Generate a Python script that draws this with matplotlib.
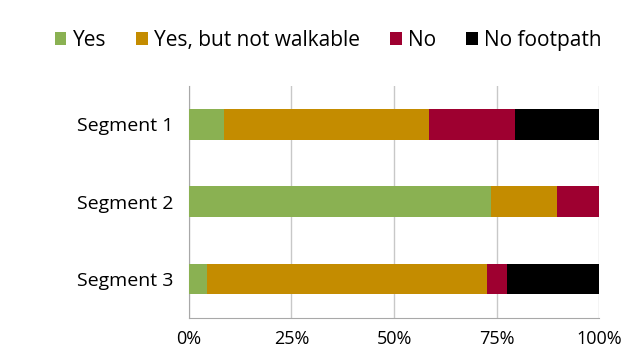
import matplotlib
matplotlib.use("Agg")
from matplotlib import pyplot as plt

plt.rcParams['font.family'] = ['Open Sans', 'DejaVu Sans']

segments = ['Segment 1', 'Segment 2', 'Segment 3']
series_names = ['Yes', 'Yes, but not walkable', 'No', 'No footpath']
yes = [8.7, 73.5, 4.4]
yes_not_walkable = [49.7, 16.1, 68.3]
no = [21.1, 10.4, 4.7]
no_footpath = [20.5, 0.0, 22.6]
colors = ['#8AB152', '#C48C00', '#9E0030', '#000000']

fig = plt.figure(figsize=(6.29, 3.51), dpi=100)
ax = fig.add_axes([0.300, 0.095, 0.653, 0.661])

left = [0.0] * len(segments)
for name, vals, c in zip(series_names, [yes, yes_not_walkable, no, no_footpath], colors):
    ax.barh(segments, vals, left=left, height=0.4, color=c, label=name, zorder=3)
    left = [l + v for l, v in zip(left, vals)]

ax.set_xlim(0, 100)
ax.set_ylim(2.5, -0.5)
ax.set_xticks([0, 25, 50, 75, 100])
ax.set_xticklabels(['0%', '25%', '50%', '75%', '100%'], fontsize=13)
for lbl in ax.get_yticklabels():
    lbl.set_fontsize(14)
ax.tick_params(axis='y', length=0, pad=11)
ax.tick_params(axis='x', length=0, pad=9)
ax.grid(axis='x', color='#C8C8C8', linewidth=1, zorder=0)
for s in ['top', 'right']:
    ax.spines[s].set_visible(False)
for s in ['left', 'bottom']:
    ax.spines[s].set_color('#A8A8A8')

fig.legend(loc='center', bbox_to_anchor=(0.522, 0.885), ncol=4, frameon=False,
           fontsize=15, handlelength=0.55, handleheight=0.55, handletextpad=0.3,
           columnspacing=1.45)

fig.savefig('out.png', dpi=100, facecolor='white')
